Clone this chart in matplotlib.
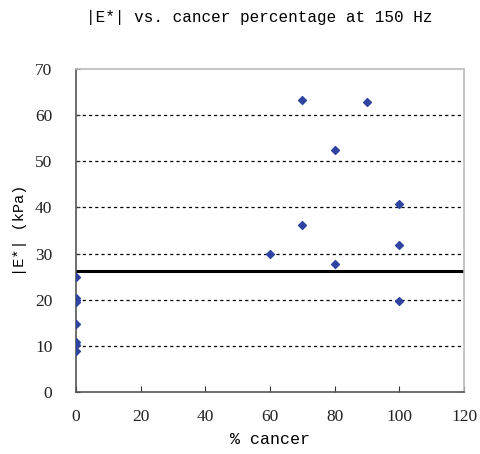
import matplotlib
matplotlib.use("Agg")
import matplotlib.pyplot as plt

# datos
pct_cancer = [0, 0, 0, 0, 0, 0, 0, 0,
              60, 70, 70, 80, 80, 90, 100, 100, 100]
e_star = [25.0, 20.4, 20.0, 19.4, 14.7, 10.9, 10.1, 8.8,
          29.8, 63.3, 36.2, 52.4, 27.8, 62.9, 40.7, 31.9, 19.8]
umbral = 26.3

xticks = [0, 20, 40, 60, 80, 100, 120]
yticks = [0, 10, 20, 30, 40, 50, 60, 70]

fig = plt.figure(figsize=(4.81, 4.54), dpi=100)
ax = fig.add_axes([0.158, 0.1366, 0.807, 0.7114])

for v in yticks[1:-1]:
    ax.axhline(v, color="black", lw=0.9, ls=(0, (2.5, 2.5)), zorder=1)
ax.axhline(umbral, color="black", lw=2.2, zorder=2)

ax.scatter(pct_cancer, e_star, marker="D", s=16, color="#2E44A0",
           edgecolors="#2E44A0", zorder=3)

ax.set_xlim(0, 120)
ax.set_ylim(0, 70)
ax.set_xticks(xticks)
ax.set_yticks(yticks)
ax.tick_params(direction="in", length=4, color="#333333",
               labelsize=12.5, pad=12)
ax.tick_params(axis="y", length=3, pad=17)
for lab in ax.get_xticklabels() + ax.get_yticklabels():
    lab.set_fontfamily("Liberation Serif")
    lab.set_color("#222222")

ax.spines["left"].set_color("#555555")
ax.spines["bottom"].set_color("#555555")
ax.spines["top"].set_color("#bbbbbb")
ax.spines["right"].set_color("#bbbbbb")
for s in ax.spines.values():
    s.set_linewidth(1.2)

ax.set_xlabel("% cancer", fontsize=12, family="Liberation Mono", labelpad=5)
ax.set_ylabel("|E*| (kPa)", fontsize=11, family="Liberation Mono", labelpad=6)
fig.text(0.54, 0.962, "|E*| vs. cancer percentage at 150 Hz", ha="center",
         va="center", fontsize=11.5, family="Liberation Mono")

fig.savefig("out.png", dpi=100)
